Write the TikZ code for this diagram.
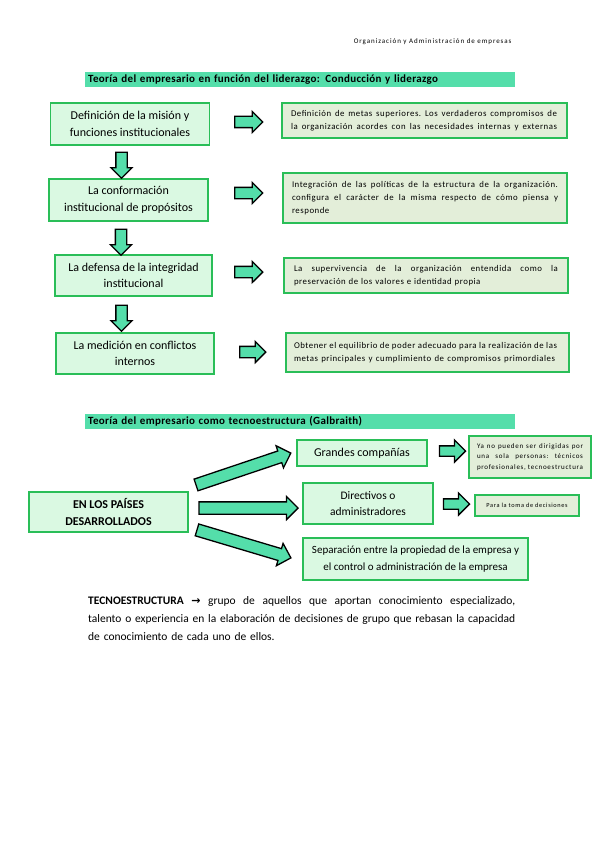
\documentclass[tikz,border=0pt]{standalone}
\usepackage{fontspec}
\setmainfont{Carlito}
\newfontfamily\djv{DejaVu Sans}
\usetikzlibrary{shapes.arrows,calc}
\definecolor{barmint}{RGB}{84,222,170}
\definecolor{boxgreen}{RGB}{42,190,88}
\definecolor{lmint}{RGB}{218,249,226}
\definecolor{olivebg}{RGB}{227,238,217}
\newcommand{\jl}[2]{\leavevmode\hbox to #1{\frenchspacing\spaceskip=0pt\xspaceskip=0pt #2}}
\begin{document}
\begin{tikzpicture}[x=1pt,y=-1pt,
 lbox/.style={draw=boxgreen,line width=1.8pt,fill=lmint,align=center,inner sep=0pt,font=\fontsize{12}{16.7}\selectfont},
 rbox/.style={draw=boxgreen,line width=1.8pt,fill=olivebg,align=left,inner xsep=0pt,inner ysep=0pt,font=\fontsize{8.8}{13.3}\selectfont\addfontfeature{LetterSpace=6}},
 sbox/.style={draw=boxgreen,line width=1.8pt,fill=olivebg,align=left,inner xsep=0pt,inner ysep=0pt,font=\fontsize{7}{10.5}\selectfont\addfontfeature{LetterSpace=10}},
 bararrow/.style={single arrow,draw=black,line width=1.3pt,fill=barmint,inner xsep=0pt,inner ysep=5pt,single arrow head extend=5pt,single arrow head indent=0pt,minimum height=28pt},
 bigarrow/.style={bararrow,inner ysep=5.5pt,single arrow head extend=5.5pt},
 titlebar/.style={fill=barmint,anchor=north west,inner xsep=3pt,inner ysep=0pt,minimum height=15pt,text width=424pt,align=left,font=\bfseries\fontsize{11}{12}\selectfont\addfontfeature{LetterSpace=3}}]
\useasboundingbox (0,0) rectangle (599,848);
\fill[white] (0,0) rectangle (599,848);

\node[anchor=east,font=\fontsize{7}{8}\selectfont\addfontfeature{LetterSpace=13.5}] (hdr) at (515,42) {Organización y Administración de empresas};

\node[titlebar] (t1) at (85,71.5) {Teoría del empresario en función del liderazgo: Conducción y liderazgo};

% left column
\node[lbox,minimum width=159pt,minimum height=42pt] (b1) at (130,124) {Definición de la misión y\\funciones institucionales};
\node[lbox,minimum width=159pt,minimum height=42pt] (b2) at (128.5,200) {La conformación\\institucional de propósitos};
\node[lbox,minimum width=157pt,minimum height=41pt] (b3) at (133.5,275.5) {La defensa de la integridad\\institucional};
\node[lbox,minimum width=158pt,minimum height=41pt] (b4) at (135,353.5) {La medición en conflictos\\internos};

\node[bararrow,rotate=-90,minimum height=26pt] (d1) at (121.5,162.5) {};
\node[bararrow,rotate=-90,minimum height=26pt] (d2) at (121,239.5) {};
\node[bararrow,rotate=-90,minimum height=26pt] (d3) at (121.5,315.5) {};

% right column
\node[rbox,minimum width=285pt,minimum height=35pt,text width=285pt] (r1) at (424.5,120.5) {\hspace*{9pt}\jl{266pt}{Definición de metas superiores. Los verdaderos compromisos de}\\\hspace*{9pt}\jl{266pt}{la organización acordes con las necesidades internas y externas}};
\node[rbox,minimum width=284pt,minimum height=50pt,text width=284pt] (r2) at (425,198) {\hspace*{9pt}\jl{266pt}{Integración de las políticas de la estructura de la organización.}\\\hspace*{9pt}\jl{266pt}{configura el carácter de la misma respecto de cómo piensa y}\\\hspace*{9pt}responde};
\node[rbox,minimum width=284pt,minimum height=35pt,text width=284pt] (r3) at (426,275.5) {\hspace*{10pt}\jl{264pt}{La supervivencia de la organización entendida como la}\\\hspace*{10pt}preservación de los valores e identidad propia};
\node[rbox,minimum width=283pt,minimum height=39pt,text width=283pt] (r4) at (427.5,352.5) {\hspace*{8pt}\jl{263pt}{Obtener el equilibrio de poder adecuado para la realización de las}\\\hspace*{8pt}\jl{261pt}{metas principales y cumplimiento de compromisos primordiales}};

\node[bararrow] (a1) at (246,122) {};
\node[bararrow] (a2) at (246,193) {};
\node[bararrow] (a3) at (246,272) {};
\node[bararrow,minimum height=26pt] (a4) at (250,352) {};

% section 2
\node[titlebar] (t2) at (85,414) {Teoría del empresario como tecnoestructura (Galbraith)};

\node[lbox,minimum width=159pt,minimum height=40pt,font=\bfseries\fontsize{12}{17}\selectfont] (p) at (108.5,512) {EN LOS PAÍSES\\DESARROLLADOS};
\node[lbox,minimum width=130pt,minimum height=26pt] (g1) at (362,453) {Grandes compañías};
\node[lbox,minimum width=130pt,minimum height=41pt,font=\fontsize{11.5}{16.7}\selectfont] (g2) at (368,503.5) {Directivos o\\administradores};
\node[lbox,minimum width=225pt,minimum height=42pt,font=\fontsize{11}{16.7}\selectfont] (g3) at (415.5,559) {Separación entre la propiedad de la empresa y\\el control o administración de la empresa};

\node[sbox,minimum width=122pt,minimum height=42pt,text width=122pt] (s1) at (530,457) {\hspace*{8pt}\jl{106pt}{Ya no pueden ser dirigidas por}\\\hspace*{8pt}\jl{106pt}{una sola personas: técnicos}\\\hspace*{8pt}\jl{106pt}{profesionales, tecnoestructura}};
\node[draw=boxgreen,line width=1.8pt,fill=olivebg,inner sep=0pt,minimum width=104pt,minimum height=21pt,font=\fontsize{6.3}{8}\selectfont\addfontfeature{LetterSpace=10}] (s2) at (527,505.5) {Para la toma de decisiones};

\node[bararrow,minimum height=26pt,inner ysep=4.5pt,single arrow head extend=6pt] (e1) at (450,451) {};
\node[bararrow,minimum height=26pt,inner ysep=4.5pt,single arrow head extend=6pt] (e2) at (454,504) {};

\node[bigarrow,minimum height=100pt,rotate=18.6] (u1) at (240.5,470) {};
\node[bigarrow,minimum height=99pt] (u2) at (245.5,508) {};
\node[bigarrow,minimum height=98pt,rotate=-16.6] (u3) at (241,543) {};

\node[anchor=north west,text width=430pt,align=left,inner sep=0pt,font=\fontsize{11.5}{18}\selectfont] (para) at (88,596) {\jl{427pt}{\textbf{TECNOESTRUCTURA} {\djv\bfseries\fontsize{11}{10}\selectfont →} grupo de aquellos que aportan conocimiento especializado,}\\\jl{427pt}{talento o experiencia en la elaboración de decisiones de grupo que rebasan la capacidad}\\de conocimiento de cada uno de ellos.};
\end{tikzpicture}
\end{document}
